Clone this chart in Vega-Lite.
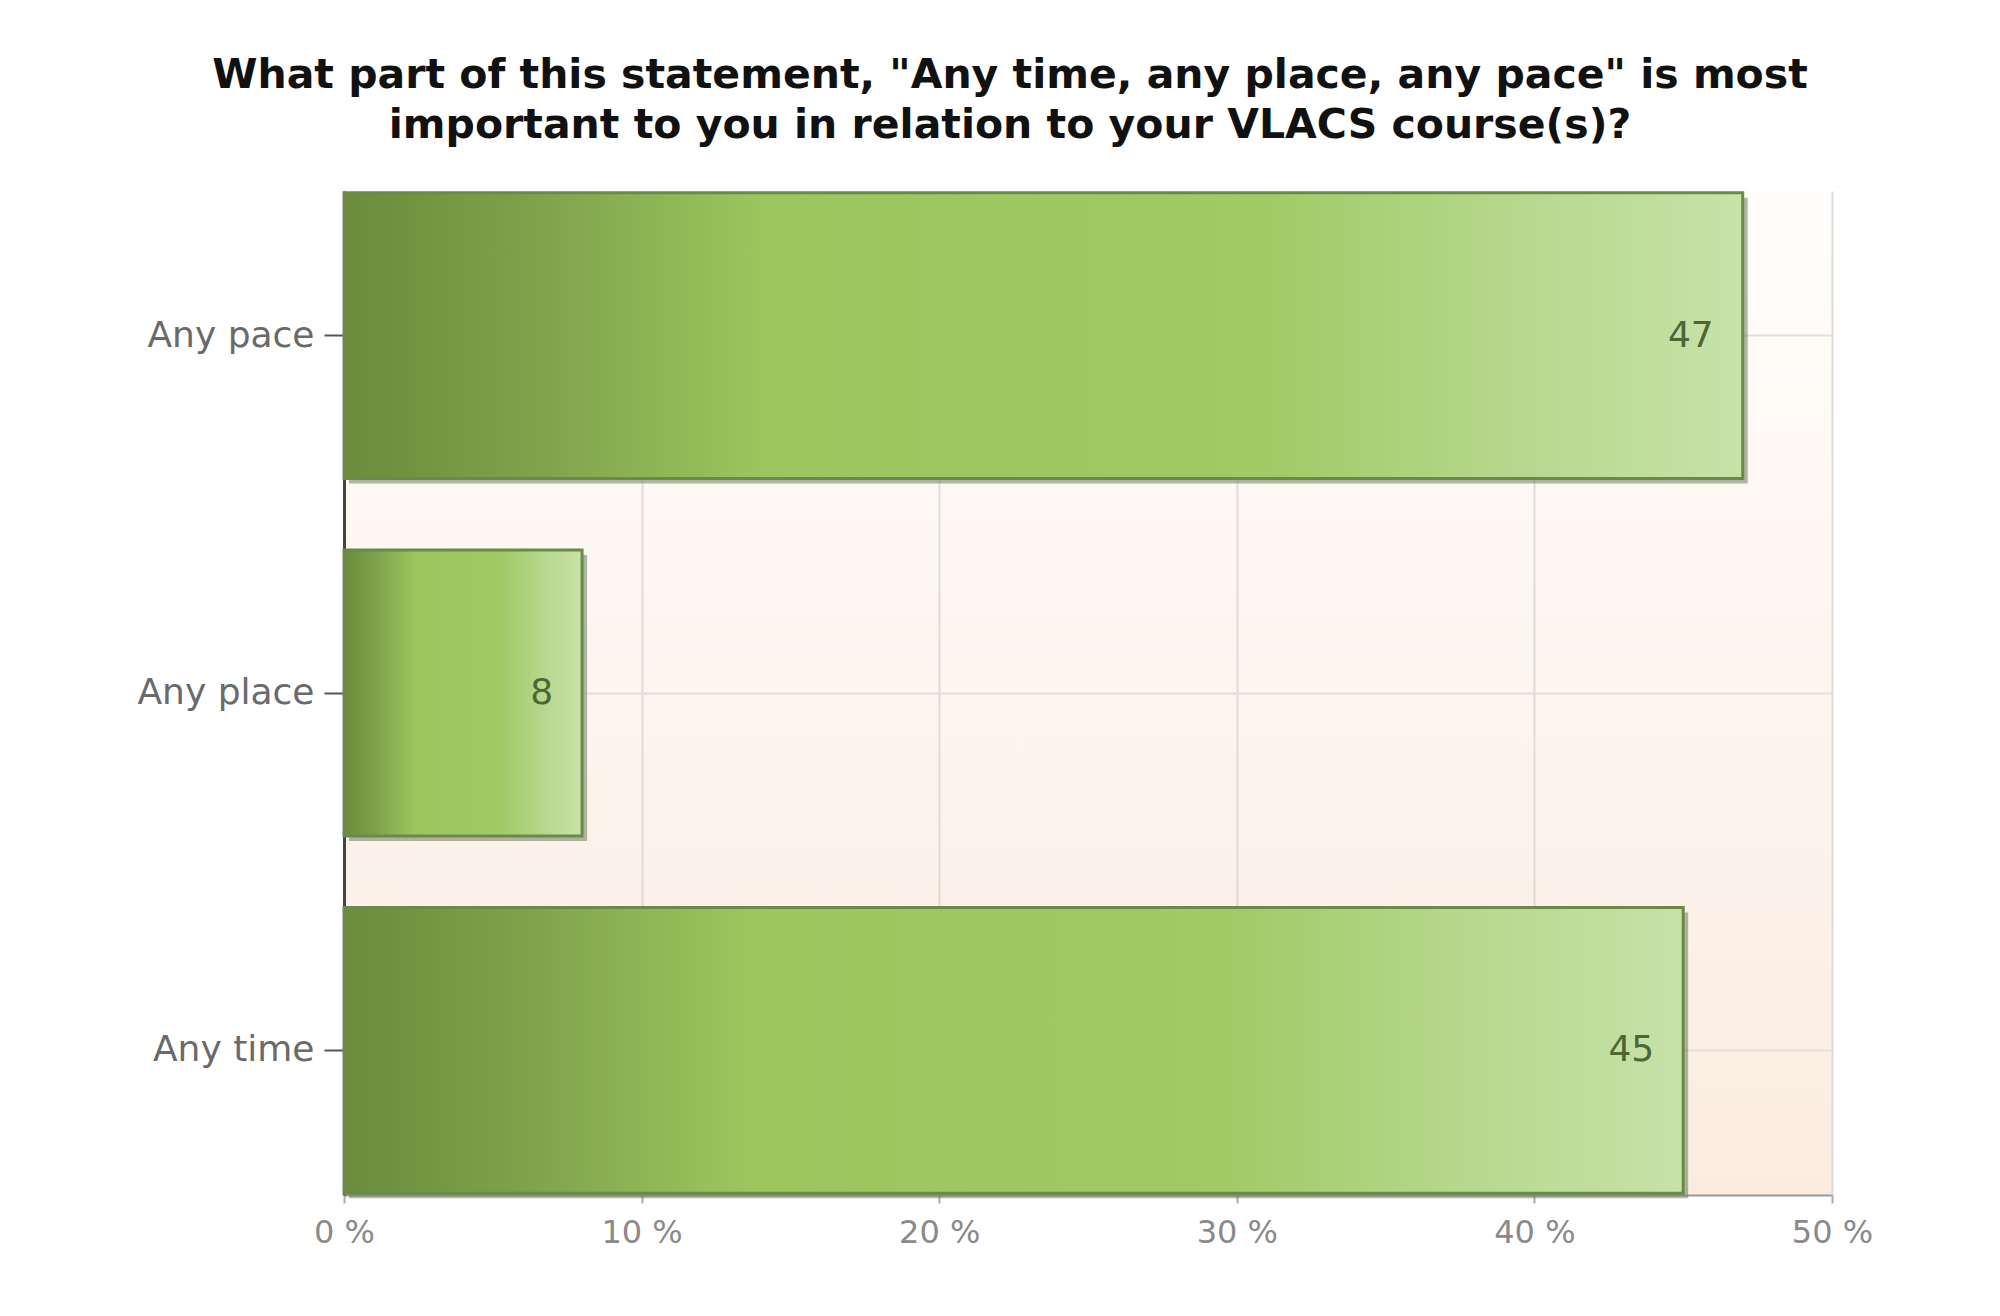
{
  "$schema": "https://vega.github.io/schema/vega-lite/v6.json",
  "width": 1488,
  "height": 1004,
  "autosize": {"type": "none"},
  "padding": {"left": 344, "top": 191, "right": 168, "bottom": 121},
  "background": "#ffffff",
  "title": {
    "text": ["What part of this statement, \"Any time, any place, any pace\" is most", "important to you in relation to your VLACS course(s)?"],
    "font": "DejaVu Sans",
    "fontSize": 41,
    "fontWeight": "bold",
    "color": "#111111",
    "anchor": "middle",
    "dx": -78,
    "offset": 44,
    "lineHeight": 50
  },
  "config": {
    "font": "DejaVu Sans",
    "view": {
      "stroke": null,
      "fill": {
        "gradient": "linear",
        "x1": 0, "y1": 0, "x2": 0, "y2": 1,
        "stops": [
          {"offset": 0, "color": "#fffefc"},
          {"offset": 1, "color": "#fbece0"}
        ]
      }
    }
  },
  "data": {
    "values": [
      {"answer": "Any pace", "percent": 47},
      {"answer": "Any place", "percent": 8},
      {"answer": "Any time", "percent": 45}
    ]
  },
  "encoding": {
    "y": {
      "field": "answer",
      "type": "nominal",
      "sort": ["Any pace", "Any place", "Any time"],
      "scale": {"paddingInner": 0.2, "paddingOuter": 0.005},
      "axis": {
        "title": null,
        "labelFont": "DejaVu Sans",
        "labelFontSize": 36,
        "labelColor": "#6a6a6a",
        "labelPadding": 10,
        "tickSize": 20,
        "tickWidth": 2,
        "tickColor": "#555555",
        "domainColor": "#444444",
        "domainWidth": 3,
        "grid": true,
        "gridColor": "#e2e0dd",
        "gridWidth": 2,
        "zindex": 0
      }
    },
    "x": {
      "field": "percent",
      "type": "quantitative",
      "scale": {"domain": [0, 50], "nice": false},
      "axis": {
        "title": null,
        "values": [0, 10, 20, 30, 40, 50],
        "labelExpr": "datum.value + ' %'",
        "labelFlush": false,
        "labelFont": "DejaVu Sans",
        "labelFontSize": 32,
        "labelColor": "#8a8a8a",
        "labelPadding": 14,
        "tickSize": 8,
        "tickColor": "#aaaaaa",
        "tickWidth": 2,
        "domainColor": "#9a9a9a",
        "domainWidth": 2,
        "grid": true,
        "gridColor": "#dedbd8",
        "gridWidth": 2,
        "zindex": 0
      }
    }
  },
  "layer": [
    {
      "mark": {"type": "bar", "xOffset": 5, "yOffset": 5, "color": "#6e7d60", "opacity": 0.55}
    },
    {
      "mark": {
        "type": "bar",
        "stroke": "#6b8a4a",
        "strokeWidth": 3,
        "color": {
          "gradient": "linear",
          "x1": 0, "y1": 0, "x2": 1, "y2": 0,
          "stops": [
            {"offset": 0, "color": "#6a8c3c"},
            {"offset": 0.14, "color": "#7fa34b"},
            {"offset": 0.3, "color": "#9bc65e"},
            {"offset": 0.65, "color": "#9fca64"},
            {"offset": 0.85, "color": "#b7d98f"},
            {"offset": 1, "color": "#c8e2a8"}
          ]
        }
      }
    },
    {
      "mark": {
        "type": "text",
        "font": "DejaVu Sans",
        "align": "right",
        "baseline": "middle",
        "dx": -29,
        "fontSize": 36,
        "color": "#4d6636"
      },
      "encoding": {"text": {"field": "percent", "type": "quantitative"}}
    }
  ]
}
